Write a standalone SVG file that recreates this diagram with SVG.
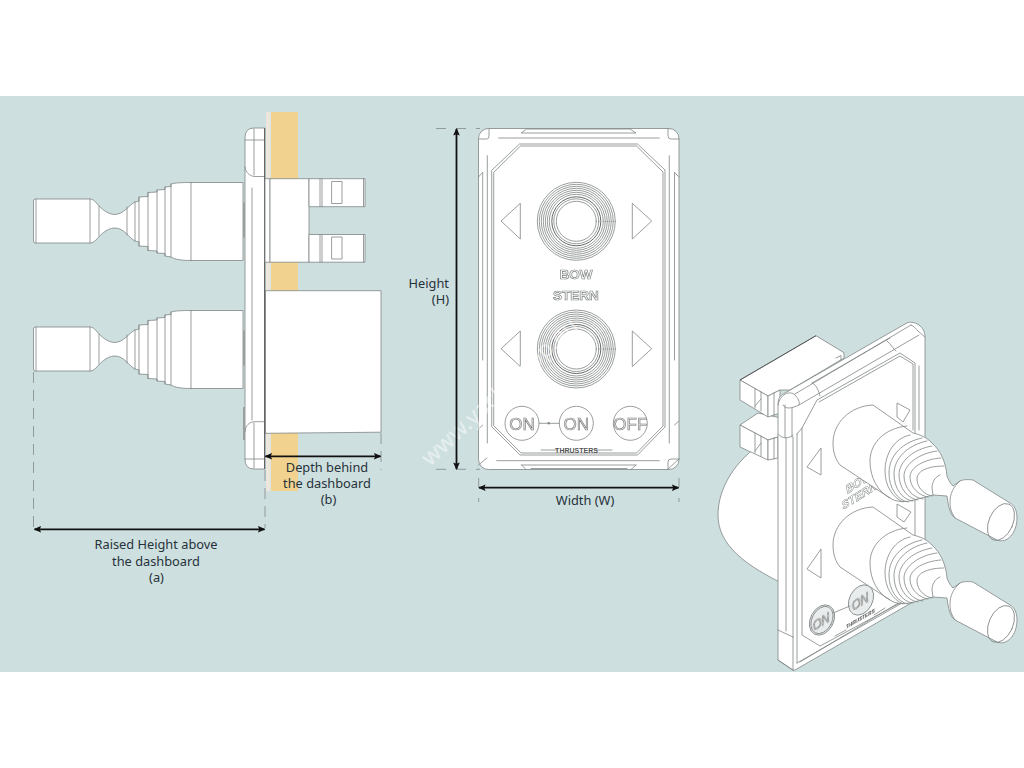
<svg xmlns="http://www.w3.org/2000/svg" width="1024" height="768" viewBox="0 0 1024 768">
<style>
.l{fill:none;stroke:#808585;stroke-width:.8;stroke-linejoin:round;stroke-linecap:round}
.w{fill:#fff;stroke:#808585;stroke-width:.8;stroke-linejoin:round}
.d{fill:none;stroke:#555;stroke-width:.9;stroke-linejoin:round}
.dim{fill:none;stroke:#111;stroke-width:1.8;marker-start:url(#a);marker-end:url(#a)}
.tick{fill:none;stroke:#8a9294;stroke-width:.9;stroke-dasharray:11 7}
.t{font-family:"Noto Sans","Open Sans",sans-serif;font-size:12.8px;fill:#26323a}
.c{text-anchor:middle}
.m{font-family:"Liberation Sans",Arial,sans-serif;font-weight:700;fill:#fff;stroke:#7d8181;stroke-width:.7;text-anchor:middle;filter:url(#g)}
.o{font-family:"Liberation Sans",Arial,sans-serif;fill:#e4e6e6;stroke:#777;stroke-width:.6;text-anchor:middle;font-size:17px;filter:url(#g)}
</style>
<defs>
<filter id="g" x="-20%" y="-20%" width="140%" height="140%"><feOffset dx="0" dy="0"/></filter>
<marker id="a" viewBox="0 0 8 8" refX="7" refY="4" markerWidth="4.2" markerHeight="4.2" orient="auto-start-reverse"><path d="M0 0.5L8 4L0 7.5L1.5 4Z" fill="#111"/></marker>
<g id="stick">
<path class="w" d="M243,182.500H191C182,182.500 175,182.800 171,184V186.500L165,187V189.500L157,190V192L148,192.500V196.500L139,197V201L135,202C129,205 124,214 115,214.500C106,214.500 99,206 96,202.500C94,200 92,199 90,199H35.500Q33.500,199 33.500,201V241Q33.500,243 35.500,243H90C92,243 94,242 96,240C99,236.500 106,228 115,228C124,228 129,238 135,241L139,242V246L148,246.500V250.500L157,251V253L165,253.500V256L171,257C175,259.500 182,260.500 191,260.500H243Z"/>
<path class="l" d="M36,199V243M90,199V243M99,206V236M127,207V235M135,202V241M139,197V246M148,192.500V250.500M157,190V253M165,187V256M171,184V257M191,182.500V260.500"/>
<path d="M243,202.500h2v35h-2z" fill="#9aa0a0"/>
</g>
<g id="ring">
<circle class="l" r="39"/><circle class="l" r="37"/><circle class="l" r="35"/><circle class="l" r="33"/><circle class="l" r="31"/><circle class="l" r="29"/><circle class="l" r="27"/><circle class="d" r="24.500"/><circle class="l" r="22.500"/><circle class="l" r="20"/>
</g>
<g id="iso-stick">
<path class="w" d="M873,507C850,508 833,525 833,545C833,555 836,562 840,567L890,600C895,604 905,604 910,603L933,597L947,598C948,606 949,612 952,617L955,620L997,642C1007,646 1017,635 1017,620C1017,612 1014,607 1010,605L973,582C966,581 962,582 960,583L953,588C950,585 948,581 947,578C946,565 941,553 932,545C926,539 921,537 913,535Z"/>
<path class="l" d="M907,528C885,530 870,545 870,563C870,580 878,594 890,600"/>
<path class="l" d="M910,537C895,540 885,555 885,573C885,588 893,600 903,604M922,540C903,544 889,557 889,575C889,590 897,602 908,604M927,543C908,547 894,560 894,576C894,590 902,602 913,603M932,548C914,551 899,563 899,577C899,590 908,601 918,602M937,553C920,555 904,566 904,578C904,590 913,600 923,601M941,560C925,561 910,569 910,579C910,590 920,598 928,599M944,568C930,568 917,572 917,581C917,590 925,597 932,598"/>
<path class="l" d="M940,577C935,579 932,584 932,590L933,597M960,583C953,589 950,596 950,604C950,610 951,614 955,620"/>
<ellipse class="l" cx="1001" cy="624" rx="12" ry="19.500" transform="rotate(24 1001 624)"/>
</g>
</defs>

<rect width="1024" height="768" fill="#fff"/>
<rect y="96" width="1024" height="576" fill="#cedfe0"/>

<g id="dashboard">
<rect x="266" y="112" width="4.500" height="379" fill="#ece7dd"/>
<rect x="271" y="112" width="27" height="379" fill="#f1d28f"/>
</g>

<g id="side-view">
<g id="side-panel">
<path class="w" d="M264.700,128H254Q245,128 245,138V459Q245,469 254,469H264.700Z"/>
<path class="l" d="M245,140H264M254,129V175M245,167C245,172 250,176.500 255,176.500H264.700M252,188V420M245,432C245,425 250,421.700 255,421.700H264.700M254,423V468M245,459H264"/>
<path d="M264.700,128V469" stroke="#555" stroke-width="1" fill="none"/>
<path d="M243,407h2v33h-2z" fill="#9aa0a0"/>
</g>
<g id="connector-block">
<rect class="w" x="265" y="178.700" width="5" height="83.500"/>
<rect class="w" x="270" y="178.700" width="39" height="83.500"/>
<path class="w" d="M309,178.700H365V206.700H309Z"/>
<path class="w" d="M309,234.500H365V262.200H309Z"/>
<path class="l" d="M320,178.700V206.700M322,178.700V206.700M320,234.500V262.200M322,234.500V262.200M363.500,178.700V206.700M363.500,234.500V262.200"/>
<rect class="l" x="332" y="181.500" width="10" height="22"/>
<rect class="l" x="332" y="237" width="10" height="22"/>
</g>
<g id="rear-box">
<path class="w" d="M265,290.700H381V432.200L265,433.300Z"/>
<path d="M265,290.700V433.300" stroke="#555" stroke-width="1" fill="none"/>
</g>
<g id="side-stick-1"><use href="#stick"/></g>
<g id="side-stick-2"><use href="#stick" transform="translate(0,128)"/></g>
</g>

<g id="front-view">
<g id="front-plate">
<rect class="w" x="478.500" y="128.500" width="200.500" height="341" rx="10"/>
<path class="l" d="M478.500,177L482.700,172.300V360M679,177L674.500,172.300V360M482.700,425L478.500,429M674.500,425L679,421"/>
<path class="l" d="M478.500,139H486.500Q489,139 489,136V128.500M679,139H671Q668,139 668,136V128.500"/>
<path class="l" d="M478.500,465L487,458M679,459H671Q668,459 668,462V469M668,469L679,459"/>
<path class="l" d="M498.700,138H659.300M496.700,460.700H659.300"/>
<path class="l" d="M521.500,133H636L630,129H527ZM521.500,465L526,469.500M636,465L631,469.500M521.500,465H636M531,468.500H627"/>
<path class="l" d="M487.300,155.700V443M669.300,155.700V443"/>
<path class="l" d="M492,170L519.500,144H637.500L665,170V427L637.500,455H520L492,427Z"/>
<path class="l" d="M494,172L520.500,146H636.500L663,172V426L636.500,453H521L494,426Z"/>
</g>
<g id="stern-text"><text class="m" x="576" y="278.500" font-size="13.500">BOW</text><text class="m" x="576" y="299.500" font-size="13.500">STERN</text></g>
<g id="front-button-bow"><use href="#ring" transform="translate(576.300,221.300)"/>
<path class="w" d="M501,221L520.300,203.300V239ZM651.700,221L632.300,203.300V239Z"/></g>
<g id="front-button-stern"><use href="#ring" transform="translate(576.300,349)"/>
<path class="w" d="M501,348.700L520.300,331V366.500ZM651.700,348.700L632.300,331V366.500Z"/></g>
<g id="front-on-1"><circle class="w" cx="522" cy="423.300" r="17"/><text class="o" x="522" y="429.500">ON</text></g>
<g id="front-on-2"><circle class="w" cx="576.300" cy="423.300" r="17"/><text class="o" x="576.300" y="429.500">ON</text></g>
<g id="front-off"><circle class="w" cx="630.300" cy="423.300" r="17"/><text class="o" x="630.300" y="429.500">OFF</text></g>
<path class="l" d="M539,423.300H559.300"/><rect x="547.500" y="422.300" width="2.500" height="2" fill="#808585"/>
<path class="l" d="M541,450H558M595,450H612"/>
<text x="576.500" y="452.500" text-anchor="middle" font-family="'Liberation Sans',Arial,sans-serif" font-weight="700" font-size="7px" fill="#555">THRUSTERS</text>
<text x="430" y="467" transform="rotate(-43 430 467)" font-family="'Noto Sans',sans-serif" font-size="23px" fill="#fff" fill-opacity=".5">www.yachtshop.eu</text>
</g>

<g id="iso-view">
<path id="iso-rear-box" class="w" d="M765,441C735,460 718,488 718,515C718,545 745,566 790,587V441Z"/>
<g id="iso-block-2">
<path class="w" d="M740,425L758,413L790,420V437L778,437L768,440Z"/>
<path class="w" d="M740,425L768,440V460L740,447Z"/>
<path class="w" d="M768,440L778,437V458L768,460Z"/>
<path class="l" d="M755,433V453M761,436V456M774,438V459M755,451L761,443"/>
</g>
<g id="iso-block-1">
<path class="w" d="M740,380L816,335.700L844,352.700V358L790,390L780,390L768,396Z"/>
<path class="w" d="M740,380L768,396V417L740,400Z"/>
<path class="w" d="M768,396L780,390V413L768,417Z"/>
<path class="l" d="M755,389V408M761,392V411M774,393V415M755,406L761,399M836,358L841,355.500V360"/>
<path d="M740,380L816,335.700" stroke="#555" stroke-width="1"/>
</g>
<g id="iso-panel">
<path class="w" d="M778,405C778,397 781,395 785,393L905,324C910,321 914,322 919,325C923,328 925,332 925,337V595L795,670Q793,671 791,669L778,660Z"/>
<path class="l" d="M778,405C780,394 790,390 795,395C798,398 800,402 799,405C793,408 785,410 783,405"/>
<path class="l" d="M799,405L919,335M795,394L911,325M812,383L890,338M887,341C891,344 893,349 896,351M812,383C817,385 819,392 820,396M925,337L919,332C916,329 914,326 911,325"/>
<path class="w" d="M817,400L900,353L915,363V595L820,646L802,635V428Z"/>
<path class="l" d="M819,402L900,356L913,364V430M919,366V430M802,428L797,434"/>
<path class="l" d="M785,405V437M792,408V437M778,434C782,439 789,439 793,435M786,438V631M793,437V637M778,630L793,637M797,434V663M778,660L793,670M793,637V670M797,663L925,590M800,662L925,587"/>
<path class="w" d="M821,448V475L807,467ZM821,549V578L807,569ZM897,403L910,410L903,422L897,417ZM897,504L911,512L904,522L897,517Z"/>
<g font-family="'Liberation Sans',Arial,sans-serif" font-weight="700" fill="#fff" stroke="#808585" stroke-width=".5" font-size="12px" filter="url(#g)">
<text transform="matrix(.85 -.53 .2 .98 847 494)">BOW</text>
<text transform="matrix(.85 -.53 .2 .98 843 510)">STERN</text>
</g>
<ellipse class="w" cx="822" cy="620" rx="11.500" ry="16" transform="rotate(28 822 620)" style="fill:#e9ecec"/>
<ellipse class="l" cx="822" cy="620" rx="10" ry="14.500" transform="rotate(28 822 620)"/>
<ellipse class="w" cx="861" cy="600" rx="11.500" ry="16" transform="rotate(28 861 600)" style="fill:#e9ecec"/>
<text class="o" style="font-size:13px;font-style:italic" transform="matrix(.85 -.53 .2 .98 822 626)">ON</text>
<text class="o" style="font-size:13px;font-style:italic" transform="matrix(.85 -.53 .2 .98 861 606)">ON</text>
<path class="l" d="M833,613L850,606"/>
<path class="l" d="M835,636L846,630M874,615L885,608"/>
<text transform="matrix(.86 -.5 0 1 846 629)" font-family="'Liberation Sans',Arial,sans-serif" font-weight="700" font-size="5.500px" fill="#444" filter="url(#g)">THRUSTERS</text>
</g>
<g id="iso-stick-1"><use href="#iso-stick" transform="translate(0,-102)"/></g>
<g id="iso-stick-2"><use href="#iso-stick"/></g>
</g>

<g id="connectors">
<path class="tick" d="M33.500,372V530"/>
<path class="tick" d="M265,470V528"/>
<path class="tick" d="M381,433V470"/>
<path class="tick" d="M436,128.500H480M436,469.300H480" style="stroke-dasharray:10 10"/>
<path class="tick" d="M478.700,478V502M679,478V502" style="stroke-dasharray:9 11"/>
<path class="dim" d="M34.500,529.300H264.500"/>
<path class="dim" d="M265.500,456.300H380.500"/>
<path class="dim" d="M456.500,129V469"/>
<path class="dim" d="M479,487.700H678.500"/>
</g>

<g id="labels">
<text class="t c" x="156" y="549">Raised Height above</text>
<text class="t c" x="156" y="565.500">the dashboard</text>
<text class="t c" x="156.500" y="581.500">(a)</text>
<text class="t c" x="327" y="472">Depth behind</text>
<text class="t c" x="327" y="488">the dashboard</text>
<text class="t c" x="328.500" y="504">(b)</text>
<text class="t" x="449" y="288" text-anchor="end">Height</text>
<text class="t" x="449" y="304" text-anchor="end">(H)</text>
<text class="t c" x="585" y="505">Width (W)</text>
</g>
</svg>
